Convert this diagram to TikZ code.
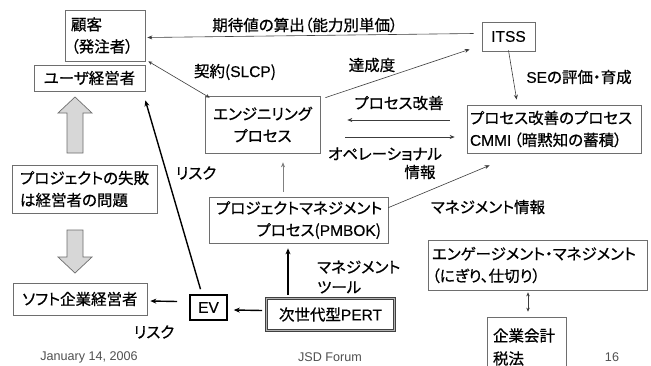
\documentclass[tikz,border=0pt]{standalone}
\usepackage{fontspec}
\setmainfont{Noto Sans CJK JP}[RawFeature=+palt, FakeBold=0.7]
\newfontfamily\lat{Liberation Sans}[FakeBold=0.4]
\newfontfamily\latft{Liberation Sans}
\usetikzlibrary{arrows.meta,calc}
\definecolor{bx}{RGB}{110,110,110}
\definecolor{ln}{RGB}{60,60,60}
\definecolor{ga}{RGB}{215,215,215}
\definecolor{ft}{RGB}{80,80,80}
\newcommand\fs{\fontsize{15.5pt}{22pt}\selectfont}
\begin{document}
\begin{tikzpicture}[x=1pt,y=-1pt,
  box/.style={draw=bx, line width=0.7pt, inner sep=0pt, font=\fs},
  lbl/.style={inner sep=0pt, font=\fs},
  foot/.style={inner sep=0pt, font=\latft\fontsize{12.6pt}{14pt}\selectfont, text=ft},
  con/.style={draw=ln, line width=0.6pt, -{Stealth[length=5pt,width=4pt]}},
  con2/.style={draw=ln, line width=0.6pt, {Stealth[length=4pt,width=3.5pt]}-{Stealth[length=4pt,width=3.5pt]}},
  heavy/.style={draw=black, line width=1.4pt, -{Stealth[length=6pt,width=5pt]}},
  blockarrow/.style={draw=bx, fill=ga, line width=0.7pt}]
\useasboundingbox (0,0) rectangle (651,365);
\fill[white] (0,0) rectangle (651,365);
% boxes
\node[box, minimum width=80pt, minimum height=51pt, text width=68pt, align=left] (kok) at (105,35.5) {顧客\\（発注者）};
\node[box, minimum width=111pt, minimum height=26pt] (user) at (89.5,78) {ユーザ経営者};
\node[box, minimum width=145pt, minimum height=48pt, text width=129pt, align=left] (fail) at (84.5,189) {プロジェクトの失敗\\は経営者の問題};
\node[box, minimum width=134pt, minimum height=32pt] (soft) at (80,299) {ソフト企業経営者};
\node[box, draw=black, line width=1.6pt, minimum width=37pt, minimum height=25pt] (ev) at (208.5,307.5) {{\lat EV}};
\node[box, draw=black!75, double=gray!60, double distance=1.2pt, line width=0.6pt, minimum width=128pt, minimum height=32pt] (pert) at (330.5,314.5) {次世代型{\lat PERT}};
\node[box, minimum width=115pt, minimum height=57pt, align=center] (eng) at (262.5,124.5) {エンジニリング\\プロセス};
\node[box, minimum width=179pt, minimum height=46pt, text width=165pt, align=right] (pmbok) at (298.5,220) {プロジェクトマネジメント\\プロセス({\lat PMBOK})};
\node[box, minimum width=53pt, minimum height=29pt] (itss) at (508.5,36.5) {{\lat ITSS}};
\node[box, minimum width=174pt, minimum height=48pt, text width=168pt, align=left] (cmmi) at (554,129) {プロセス改善のプロセス\\{\lat CMMI}\,（暗黙知の蓄積）};
\node[box, minimum width=219pt, minimum height=50pt, text width=211pt, align=left] (engage) at (537.5,265) {エンゲージメント・マネジメント\\（にぎり、仕切り）};
\node[box, minimum width=79pt, minimum height=60pt, text width=67pt, align=left, font=\fontsize{15.5pt}{23pt}\selectfont] (kaikei) at (526.5,347) {企業会計\\税法};
% block arrows
\draw[blockarrow] (67,153) -- (67,113) -- (58,113) -- (75,97) -- (92,113) -- (83,113) -- (83,153) -- cycle;
\draw[blockarrow] (67,230) -- (83,230) -- (83,257) -- (92,257) -- (75,273) -- (58,257) -- (67,257) -- cycle;
% labels
\node[lbl] (l1) at (305,25) {期待値の算出（能力別単価）};
\node[lbl] (l2) at (235,72) {契約({\lat SLCP})};
\node[lbl] (l3) at (372,65) {達成度};
\node[lbl] (l4) at (579,77) {{\lat SE}の評価・育成};
\node[lbl] (l5) at (399,103) {プロセス改善};
\node[lbl] (l6) at (385,154) {オペレーショナル};
\node[lbl] (l7) at (420,172) {情報};
\node[lbl] (l8) at (488,207) {マネジメント情報};
\node[lbl, align=left, anchor=west, font=\fontsize{15.5pt}{20pt}\selectfont] (l9) at (317,277) {マネジメント\\ツール};
\node[lbl] (l10) at (196,173) {リスク};
\node[lbl] (l11) at (154,332) {リスク};
% footer
\node[foot] (f1) at (89,357) {January 14, 2006};
\node[foot] (f2) at (330,357) {JSD Forum};
\node[foot] (f3) at (612,357) {16};
% connectors
\draw[con] ($(itss.west)+(-8,-3)$) -- ($(kok.east)+(2,2)$);
\draw[con2] ($(kok.south east)+(3,0)$) -- ($(eng.north west)+(5,2)$);
\draw[con] ($(eng.north east)+(5,2)$) -- ($(itss.south west)+(-12,-2)$);
\draw[con] ($(itss.south)+(0,-1)$) -- ($(cmmi.north west)+(50,-5)$);
\draw[con] ($(cmmi.west)+(-17,-9)$) -- ($(eng.east)+(27,-4.5)$);
\draw[con] ($(eng.east)+(25,12.5)$) -- ($(cmmi.west)+(-12,8)$);
\draw[con] ($(pmbok.north east)+(0,11)$) -- ($(cmmi.south west)+(23,12)$);
\draw[con, draw=gray] ($(pmbok.north)+(-15.5,-5)$) -- ($(eng.south)+(20.5,9)$);
\draw[heavy] ($(pert.north)+(-42.5,-3)$) -- ($(pmbok.south)+(-10.5,5)$);
\draw[heavy] ($(pert.west)+(-4,-4)$) -- ($(ev.east)+(6,2.5)$);
\draw[heavy] ($(ev.north)+(-8,-5)$) -- ($(user.south east)+(0,9)$);
\draw[heavy] ($(ev.west)+(-12,-6)$) -- ($(soft.east)+(3,2)$);
\draw[con2] ($(engage.south)+(-9.5,2)$) -- ($(kaikei.north)+(1.5,-5)$);
\end{tikzpicture}
\end{document}
